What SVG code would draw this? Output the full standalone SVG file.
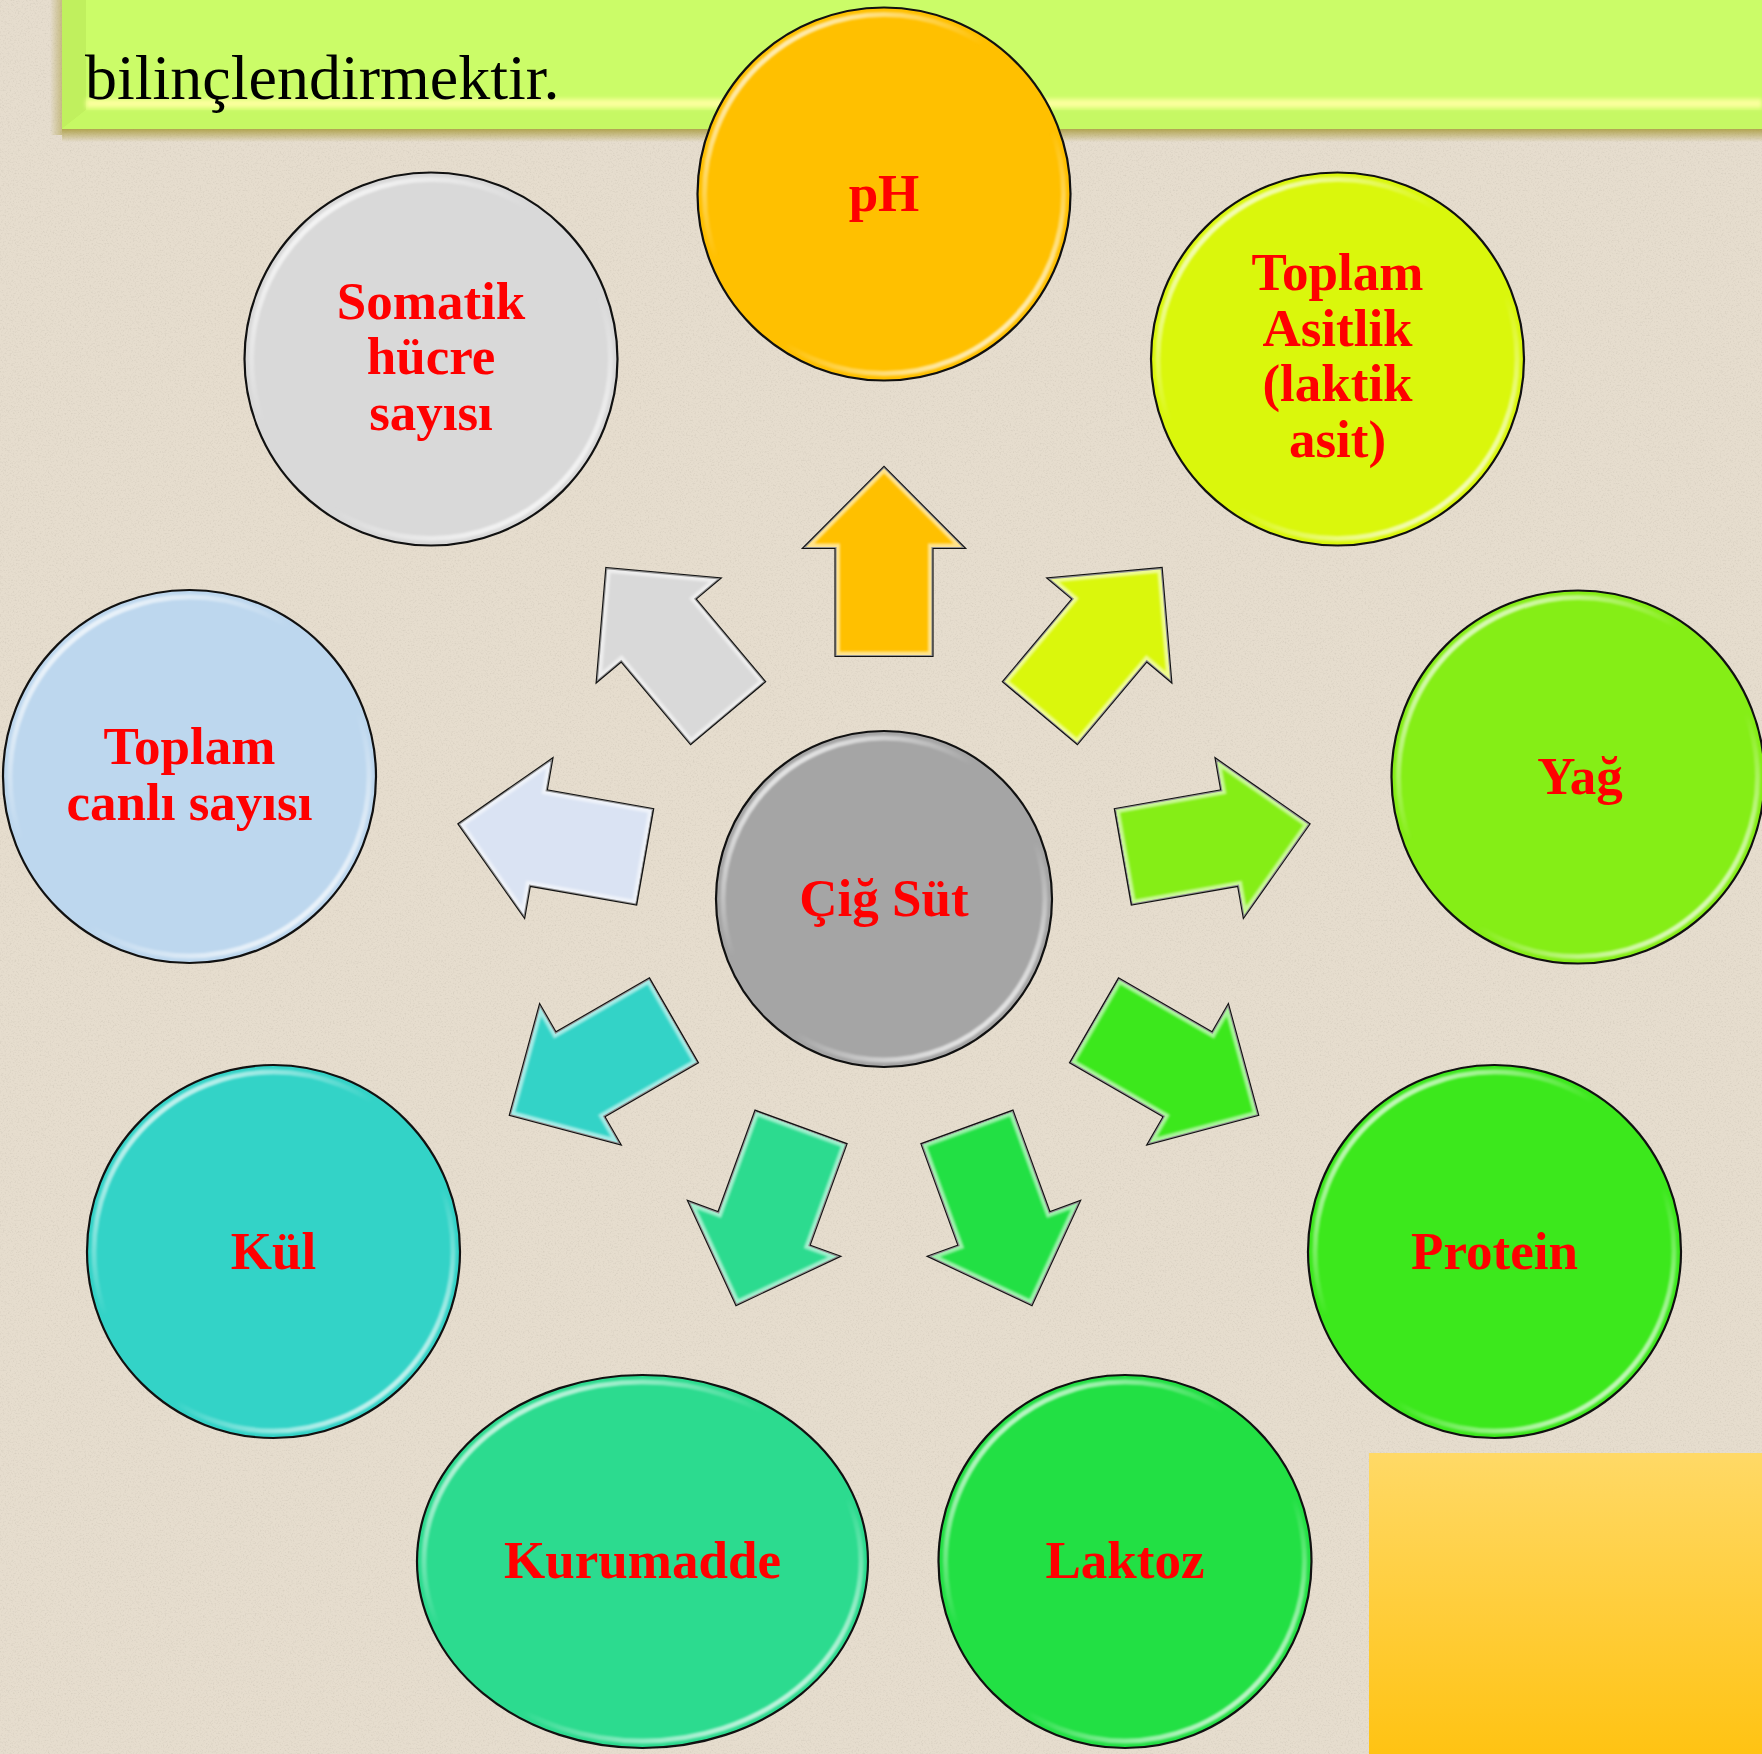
<svg xmlns="http://www.w3.org/2000/svg" width="1762" height="1754" viewBox="0 0 1762 1754">
<defs>
<style>
.lbl{font-family:"Liberation Serif","Times New Roman",serif;font-weight:bold;font-size:53px;fill:#FF0000;text-anchor:middle}
.node{stroke:#111;stroke-width:2.2}
.ring{fill:none;stroke:url(#ringGrad);stroke-width:5;filter:url(#soft)}
.arrow{stroke:#111;stroke-width:2.2;stroke-linejoin:miter}
.ahl{fill:none;stroke:#FFFFFF;stroke-opacity:0.55;stroke-width:9;clip-path:url(#arrowClip);filter:url(#soft)}
</style>
<linearGradient id="ringGrad" x1="0.1" y1="0" x2="0.9" y2="1">
<stop offset="0" stop-color="#fff" stop-opacity="0.95"/>
<stop offset="0.38" stop-color="#fff" stop-opacity="0"/>
<stop offset="0.62" stop-color="#fff" stop-opacity="0"/>
<stop offset="1" stop-color="#fff" stop-opacity="0.95"/>
</linearGradient>
<linearGradient id="orangeGrad" x1="0" y1="0" x2="0" y2="1">
<stop offset="0" stop-color="#FFD966"/>
<stop offset="1" stop-color="#FFC313"/>
</linearGradient>
<linearGradient id="shadowGrad" x1="0" y1="0" x2="0" y2="1">
<stop offset="0" stop-color="#A89A3A" stop-opacity="0.85"/>
<stop offset="1" stop-color="#A89A3A" stop-opacity="0"/>
</linearGradient>
<linearGradient id="shadowGradL" x1="1" y1="0" x2="0" y2="0">
<stop offset="0" stop-color="#A89A3A" stop-opacity="0.5"/>
<stop offset="1" stop-color="#A89A3A" stop-opacity="0"/>
</linearGradient>
<filter id="soft" x="-10%" y="-10%" width="120%" height="120%"><feGaussianBlur stdDeviation="1.3"/></filter>
<filter id="blur3" x="-5%" y="-50%" width="110%" height="200%"><feGaussianBlur stdDeviation="2"/></filter>
<filter id="noise" x="0" y="0" width="100%" height="100%">
<feTurbulence type="fractalNoise" baseFrequency="0.6" numOctaves="3" seed="7"/>
<feColorMatrix type="matrix" values="0 0 0 0 0.55  0 0 0 0 0.5  0 0 0 0 0.42  1.6 0 0 0 -0.78"/>
</filter>
<clipPath id="arrowClip"><path d="M0,-432 L80.5,-351 L48.5,-351 L48.5,-243 L-48.5,-243 L-48.5,-351 L-80.5,-351 Z"/></clipPath>
<path id="arrowShape" d="M0,-432 L80.5,-351 L48.5,-351 L48.5,-243 L-48.5,-243 L-48.5,-351 L-80.5,-351 Z"/>
</defs>

<g id="background">
<rect x="0" y="0" width="1762" height="1754" fill="#E6DDCE"/>
<rect x="0" y="0" width="1762" height="1754" filter="url(#noise)" opacity="0.6"/>
</g>

<g id="banner">
<rect x="62" y="129" width="1700" height="13" fill="url(#shadowGrad)"/>
<rect x="50" y="0" width="12" height="135" fill="url(#shadowGradL)"/>
<rect x="62" y="0" width="1700" height="129" fill="#CBFC68"/>
<polygon points="62,0 86,0 86,110 62,129" fill="#C0F05E"/>
<polygon points="62,129 86,110 1762,110 1762,129" fill="#C6F864"/>
<rect x="86" y="99" width="1676" height="9" fill="#FAFF9C" filter="url(#blur3)"/>
<text x="85" y="99" font-family="'Liberation Serif','Times New Roman',serif" font-size="64" fill="#000">bilinçlendirmektir.</text>
</g>

<g id="cornerBox">
<rect x="1369" y="1453" width="393" height="301" fill="url(#orangeGrad)"/>
</g>

<g id="connectors">
<g transform="translate(884 899) rotate(0)"><use href="#arrowShape" class="arrow" fill="#FFC000"/><use href="#arrowShape" class="ahl"/></g>
<g transform="translate(884 899) rotate(40)"><use href="#arrowShape" class="arrow" fill="#DAF70C"/><use href="#arrowShape" class="ahl"/></g>
<g transform="translate(884 899) rotate(80)"><use href="#arrowShape" class="arrow" fill="#85EE16"/><use href="#arrowShape" class="ahl"/></g>
<g transform="translate(884 899) rotate(120)"><use href="#arrowShape" class="arrow" fill="#3CE81C"/><use href="#arrowShape" class="ahl"/></g>
<g transform="translate(884 899) rotate(160)"><use href="#arrowShape" class="arrow" fill="#22E044"/><use href="#arrowShape" class="ahl"/></g>
<g transform="translate(884 899) rotate(200)"><use href="#arrowShape" class="arrow" fill="#2CDB8F"/><use href="#arrowShape" class="ahl"/></g>
<g transform="translate(884 899) rotate(240)"><use href="#arrowShape" class="arrow" fill="#33D3C7"/><use href="#arrowShape" class="ahl"/></g>
<g transform="translate(884 899) rotate(280)"><use href="#arrowShape" class="arrow" fill="#DAE3F3"/><use href="#arrowShape" class="ahl"/></g>
<g transform="translate(884 899) rotate(320)"><use href="#arrowShape" class="arrow" fill="#D9D9D9"/><use href="#arrowShape" class="ahl"/></g>
</g>

<g id="node-center">
<circle cx="884" cy="899" r="168" class="node" fill="#A5A5A5"/>
<circle cx="884" cy="899" r="161" class="ring"/>
<text x="884" y="916" class="lbl">Çiğ Süt</text>
</g>

<g id="node-ph">
<circle cx="884" cy="194" r="186.5" class="node" fill="#FFC000"/>
<circle cx="884" cy="194" r="179.5" class="ring"/>
<text x="884" y="211" class="lbl">pH</text>
</g>

<g id="node-asitlik">
<circle cx="1337.5" cy="359" r="186.5" class="node" fill="#DAF70C"/>
<circle cx="1337.5" cy="359" r="179.5" class="ring"/>
<text class="lbl"><tspan x="1337.5" y="290">Toplam</tspan><tspan x="1337.5" y="345.5">Asitlik</tspan><tspan x="1337.5" y="401">(laktik</tspan><tspan x="1337.5" y="456.5">asit)</tspan></text>
</g>

<g id="node-yag">
<circle cx="1578" cy="777" r="186.5" class="node" fill="#85EE16"/>
<circle cx="1578" cy="777" r="179.5" class="ring"/>
<text x="1580" y="794" class="lbl">Yağ</text>
</g>

<g id="node-protein">
<circle cx="1494.5" cy="1251.5" r="186.5" class="node" fill="#3CE81C"/>
<circle cx="1494.5" cy="1251.5" r="179.5" class="ring"/>
<text x="1494.5" y="1268.5" class="lbl">Protein</text>
</g>

<g id="node-laktoz">
<circle cx="1125" cy="1561.5" r="186.5" class="node" fill="#22E044"/>
<circle cx="1125" cy="1561.5" r="179.5" class="ring"/>
<text x="1125" y="1578" class="lbl">Laktoz</text>
</g>

<g id="node-kurumadde">
<ellipse cx="642.5" cy="1561.5" rx="225.5" ry="186.5" class="node" fill="#2CDB8F"/>
<ellipse cx="642.5" cy="1561.5" rx="218.5" ry="179.5" class="ring"/>
<text x="642.5" y="1578" class="lbl">Kurumadde</text>
</g>

<g id="node-kul">
<circle cx="273.5" cy="1251.5" r="186.5" class="node" fill="#33D3C7"/>
<circle cx="273.5" cy="1251.5" r="179.5" class="ring"/>
<text x="273.5" y="1268.5" class="lbl">Kül</text>
</g>

<g id="node-canli">
<circle cx="189.5" cy="776.5" r="186.5" class="node" fill="#BDD7EE"/>
<circle cx="189.5" cy="776.5" r="179.5" class="ring"/>
<text class="lbl"><tspan x="189.5" y="764">Toplam</tspan><tspan x="189.5" y="819.5">canlı sayısı</tspan></text>
</g>

<g id="node-somatik">
<circle cx="431" cy="359" r="186.5" class="node" fill="#D9D9D9"/>
<circle cx="431" cy="359" r="179.5" class="ring"/>
<text class="lbl"><tspan x="431" y="318.5">Somatik</tspan><tspan x="431" y="374">hücre</tspan><tspan x="431" y="429.5">sayısı</tspan></text>
</g>
</svg>
